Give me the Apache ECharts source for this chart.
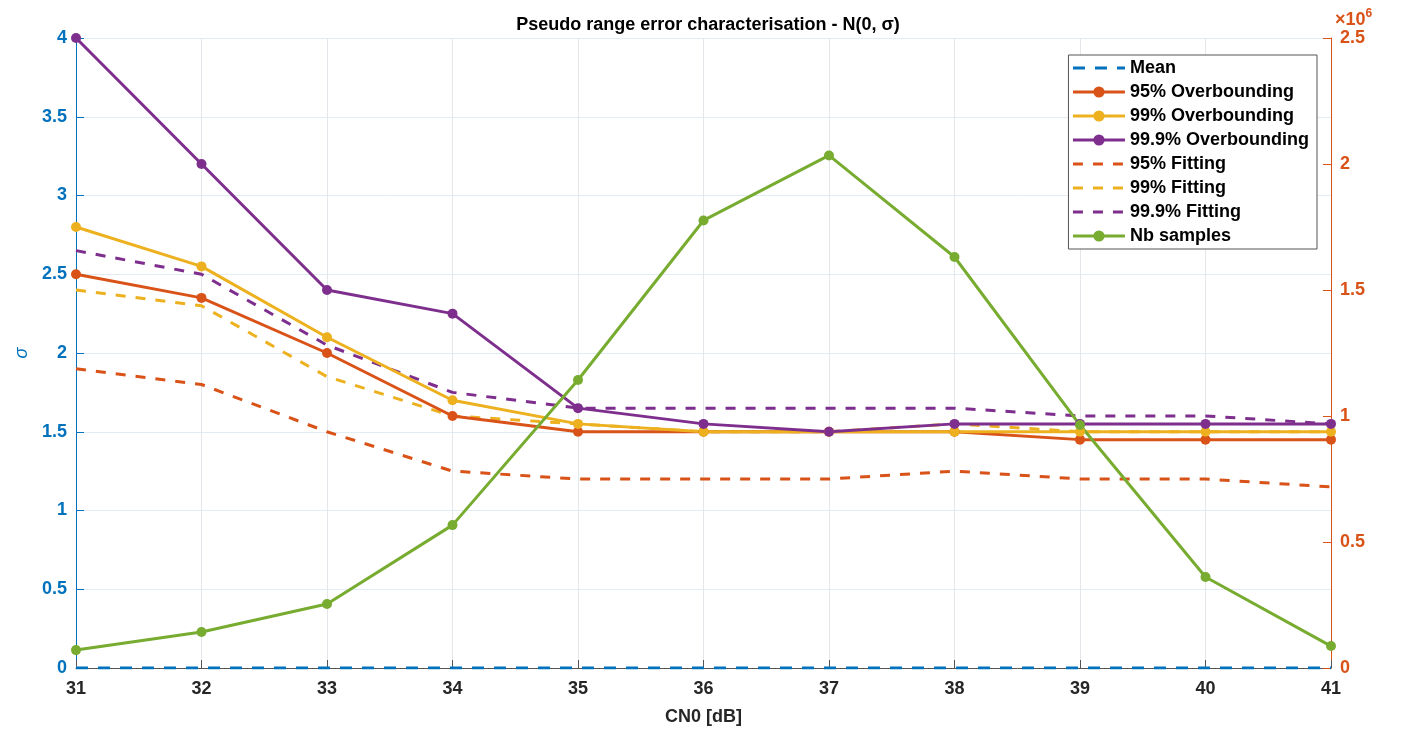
<!DOCTYPE html>
<html>
<head>
<meta charset="utf-8">
<script src="https://cdn.jsdelivr.net/npm/echarts@6/dist/echarts.min.js"></script>
<style>html,body{margin:0;padding:0;background:#fff}#c{width:1401px;height:731px}</style>
</head>
<body>
<div id="c"></div>
<script>
const cn0 = [31, 32, 33, 34, 35, 36, 37, 38, 39, 40, 41];
const mean = [0, 0, 0, 0, 0, 0, 0, 0, 0, 0, 0];
const ob95 = [2.5, 2.35, 2.0, 1.6, 1.5, 1.5, 1.5, 1.5, 1.45, 1.45, 1.45];
const ob99 = [2.8, 2.55, 2.1, 1.7, 1.55, 1.5, 1.5, 1.5, 1.5, 1.5, 1.5];
const ob999 = [4.0, 3.2, 2.4, 2.25, 1.65, 1.55, 1.5, 1.55, 1.55, 1.55, 1.55];
const fit95 = [1.9, 1.8, 1.5, 1.25, 1.2, 1.2, 1.2, 1.25, 1.2, 1.2, 1.15];
const fit99 = [2.4, 2.3, 1.85, 1.6, 1.55, 1.5, 1.5, 1.55, 1.5, 1.5, 1.5];
const fit999 = [2.65, 2.5, 2.05, 1.75, 1.65, 1.65, 1.65, 1.65, 1.6, 1.6, 1.55];
const nbSamples = [71000, 143000, 254000, 567000, 1143000, 1776000, 2034000, 1631000, 964000, 361000, 87000];
const legendNames = ['Mean', '95% Overbounding', '99% Overbounding', '99.9% Overbounding', '95% Fitting', '99% Fitting', '99.9% Fitting', 'Nb samples'];
const dashedNames = ['Mean', '95% Fitting', '99% Fitting', '99.9% Fitting'];

const BLUE = '#0072BD', ORANGE = '#D95319', YELLOW = '#EDB120', PURPLE = '#7E2F8E', GREEN = '#77AC30';
const pair = arr => cn0.map((x, i) => [x, arr[i]]);

function solid(name, data, color, yAxisIndex) {
  return { name, type: 'line', data: pair(data), yAxisIndex: yAxisIndex || 0,
    symbol: 'circle', symbolSize: 10, color,
    lineStyle: { color, width: 3 }, itemStyle: { color }, z: 3 };
}
function dashed(name, data, color) {
  return { name, type: 'line', data: pair(data), symbol: 'none', color,
    lineStyle: { color, width: 3, type: [10, 10] }, itemStyle: { color }, z: 2 };
}

const chart = echarts.init(document.getElementById('c'));
chart.setOption({
  animation: false,
  textStyle: { fontFamily: 'Liberation Sans, Arial, sans-serif' },
  title: { text: 'Pseudo range error characterisation - N(0, σ)', left: 703, textAlign: 'center', top: 11,
    textStyle: { fontSize: 18, fontWeight: 'bold', color: '#000' } },
  grid: { left: 76, right: 70, top: 38, bottom: 63 },
  legend: {
    orient: 'vertical', right: 84, top: 55, itemWidth: 52, itemHeight: 14, itemGap: 6,
    backgroundColor: '#fff', borderColor: '#555', borderWidth: 1, padding: [4, 8, 4, 3],
    textStyle: { fontSize: 18, fontWeight: 'bold', color: '#000' },
    data: legendNames.map(n => dashedNames.includes(n)
      ? { name: n, itemStyle: { opacity: 0 }, lineStyle: { width: 3 } }
      : { name: n, lineStyle: { width: 3 } })
  },
  xAxis: {
    type: 'value', min: 31, max: 41, interval: 1,
    name: 'CN0 [dB]', nameLocation: 'middle', nameGap: 40,
    nameTextStyle: { fontSize: 18, fontWeight: 'bold', color: '#262626' },
    axisLine: { lineStyle: { color: '#555', width: 1 } },
    axisTick: { inside: true, length: 8, lineStyle: { color: '#555' } },
    axisLabel: { fontSize: 18, fontWeight: 'bold', color: '#262626', margin: 12 },
    splitLine: { show: true, lineStyle: { color: '#e3e6ea', width: 1 } }
  },
  yAxis: [{
    type: 'value', min: 0, max: 4, interval: 0.5, position: 'left',
    name: 'σ', nameLocation: 'middle', nameGap: 44, nameRotate: 90,
    nameTextStyle: { fontSize: 18, color: BLUE, fontStyle: 'italic' },
    axisLine: { show: true, lineStyle: { color: BLUE, width: 1 } },
    axisTick: { show: true, inside: true, length: 8, lineStyle: { color: BLUE } },
    axisLabel: { fontSize: 18, fontWeight: 'bold', color: BLUE, margin: 9 },
    splitLine: { show: true, lineStyle: { color: '#e1ecf5', width: 1 } }
  }, {
    type: 'value', min: 0, max: 2500000, interval: 500000, position: 'right',
    name: '{a|×10}{b|6}', nameLocation: 'end', nameGap: 1,
    nameTextStyle: { align: 'left', padding: [0, 0, 0, 4],
      rich: { a: { fontSize: 18, fontWeight: 'bold', color: ORANGE }, b: { fontSize: 12, fontWeight: 'bold', color: ORANGE, verticalAlign: 'top', padding: [0, 0, 12, 0] } } },
    axisLine: { show: true, lineStyle: { color: ORANGE, width: 1 } },
    axisTick: { show: true, inside: true, length: 8, lineStyle: { color: ORANGE } },
    axisLabel: { fontSize: 18, fontWeight: 'bold', color: ORANGE, margin: 9, formatter: v => String(v / 1e6) },
    splitLine: { show: false }
  }],
  series: [
    { name: 'Mean', type: 'line', data: pair(mean), symbol: 'none', color: BLUE,
      lineStyle: { color: BLUE, width: 3, type: [12, 10] }, itemStyle: { color: BLUE }, z: 4 },
    solid('95% Overbounding', ob95, ORANGE),
    solid('99% Overbounding', ob99, YELLOW),
    solid('99.9% Overbounding', ob999, PURPLE),
    dashed('95% Fitting', fit95, ORANGE),
    dashed('99% Fitting', fit99, YELLOW),
    dashed('99.9% Fitting', fit999, PURPLE),
    solid('Nb samples', nbSamples, GREEN, 1)
  ]
});
</script>
</body>
</html>
